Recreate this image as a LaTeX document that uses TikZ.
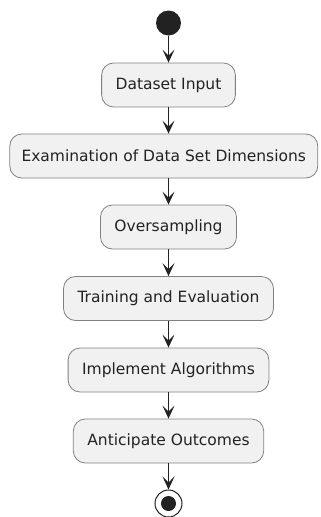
\documentclass[tikz,border=0pt]{standalone}
\usepackage{fontspec}
\setmainfont{DejaVu Sans}
\usetikzlibrary{arrows.meta}

\begin{document}
\begin{tikzpicture}[x=1pt,y=-1pt,
  act/.style={draw=boxline, fill=boxfill, line width=0.8pt, rounded corners=12pt,
    minimum height=44pt, inner xsep=14pt, text=ink,
    font=\fontsize{15.5}{18}\selectfont},
  flow/.style={draw=ink, line width=1.2pt, -{Stealth[length=13pt,width=12pt,inset=6pt]}}]

% Greys of the activity chart
\definecolor{boxfill}{RGB}{241,241,241}
\definecolor{boxline}{RGB}{128,128,128}
\definecolor{ink}{RGB}{34,34,34}

\useasboundingbox (0,0) rectangle (321,517);
\coordinate (axis) at (168.5,0);

% Start and stop
\node[circle, fill=ink, minimum size=25pt, inner sep=0pt] (start) at (168.5,23) {};
\node[circle, draw=ink, fill=white, line width=1pt, minimum size=27pt, inner sep=0pt] (stop) at (168.5,503.5) {};
\node[circle, fill=ink, minimum size=15pt, inner sep=0pt] (stopdot) at (stop) {};

% Activities
\node[act] (input) at (168.5,85) {Dataset Input};
\node[act, minimum width=308pt, inner xsep=6pt] (dims) at (163.75,156) {Examination of Data Set Dimensions};
\node[act] (over) at (168.5,227) {Oversampling};
\node[act] (train) at (168.5,298.5) {Training and Evaluation};
\node[act] (impl) at (168.5,370) {Implement Algorithms};
\node[act] (outc) at (168.5,441) {Anticipate Outcomes};

% Flow arrows
\foreach \a/\b in {start/input, input/dims, dims/over, over/train, train/impl, impl/outc, outc/stop} {
  \draw[flow] (\a.south -| axis) -- (\b.north -| axis);
}

\end{tikzpicture}
\end{document}
